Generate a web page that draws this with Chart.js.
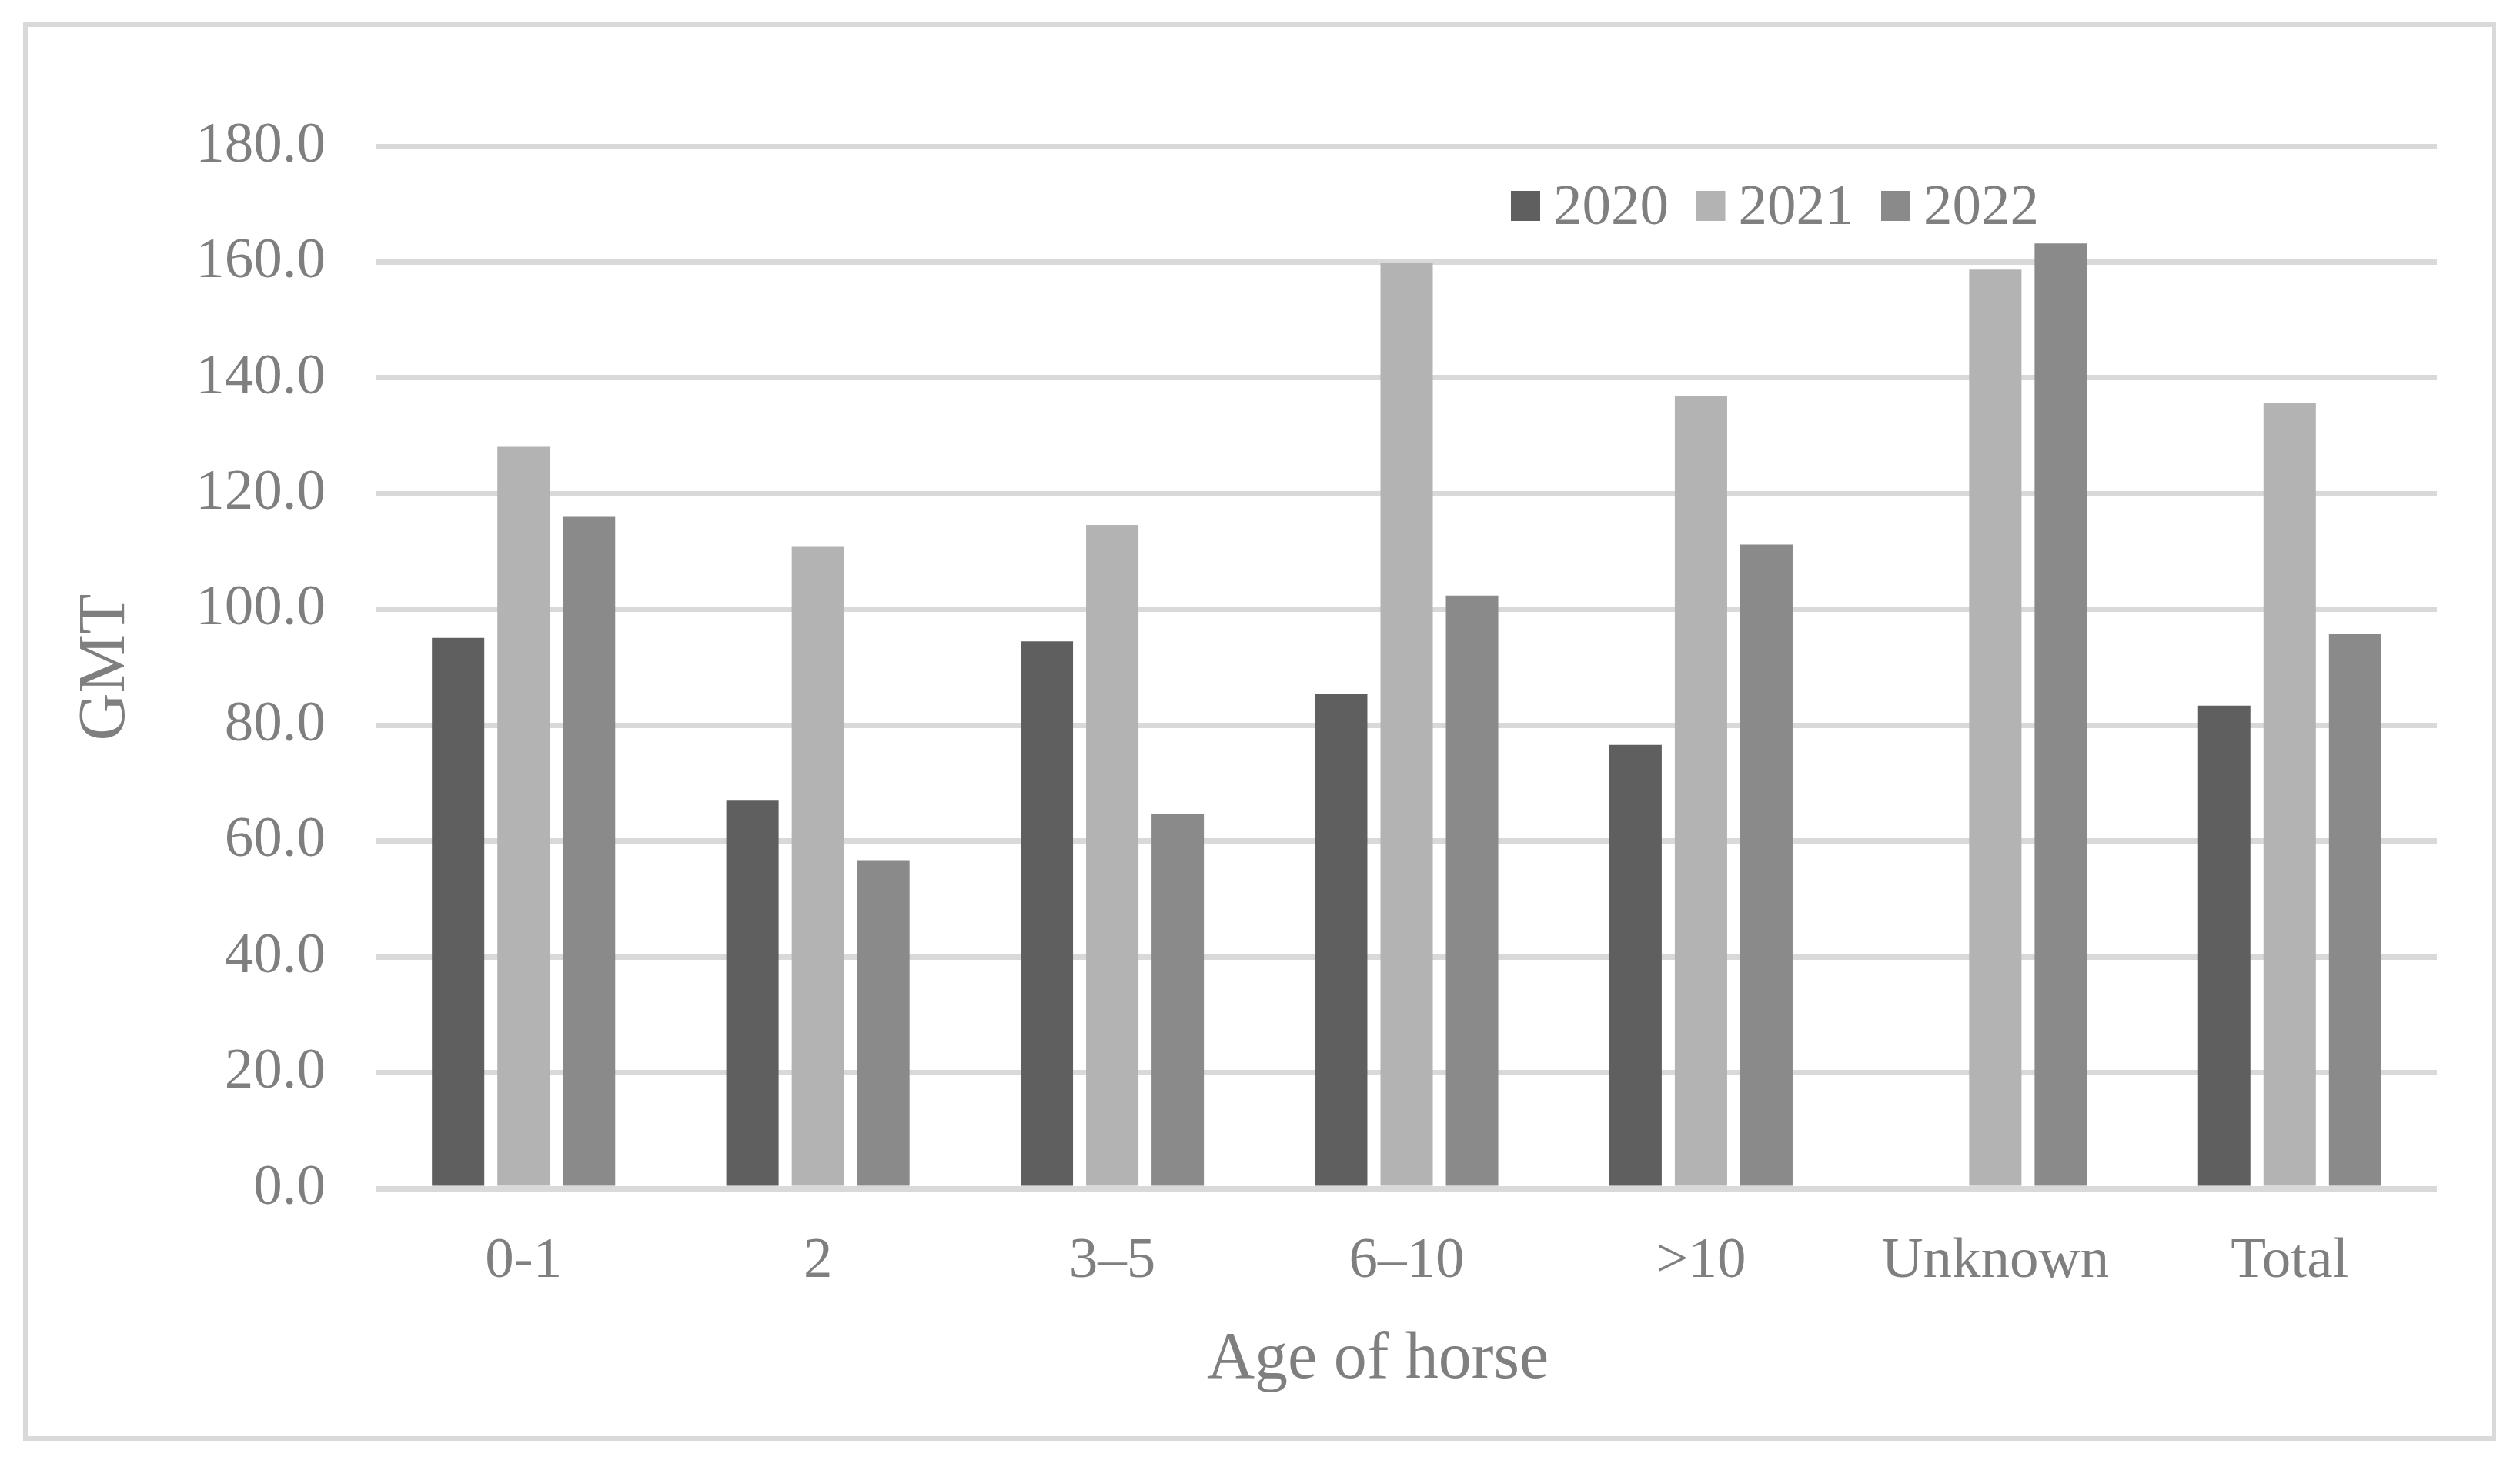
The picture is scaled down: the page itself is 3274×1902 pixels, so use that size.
<!DOCTYPE html>
<html>
<head>
<meta charset="utf-8">
<title>GMT by age of horse</title>
<script src="https://cdn.jsdelivr.net/npm/chart.js@4.4.1/dist/chart.umd.min.js"></script>
<style>
    html, body {
        margin: 0;
        padding: 0;
        background: #ffffff;
        overflow: hidden;
    }
    #wrap {
        position: relative;
        width: 3274px;
        height: 1902px;
    }
    #frame {
        position: absolute;
        left: 30px;
        top: 29px;
        width: 3213px;
        height: 1843px;
        border: 6px solid #d9d9d9;
        box-sizing: border-box;
        pointer-events: none;
    }
</style>
</head>
<body>
<div id="wrap">
    <canvas id="gmtChart" width="3274" height="1902"></canvas>
    <div id="frame"></div>
</div>
<script>
// data
const ageGroups = ["0-1", "2", "3\u20135", "6\u201310", ">10", "Unknown", "Total"];
const years = ["2020", "2021", "2022"];
const gmt2020 = [95.1, 67.1, 94.5, 85.4, 76.6, null, 83.4];
const gmt2021 = [128.1, 110.8, 114.6, 159.8, 136.9, 158.7, 135.7];
const gmt2022 = [116.0, 56.7, 64.6, 102.4, 111.2, 163.2, 95.7];
const yTicks = [0, 20, 40, 60, 80, 100, 120, 140, 160, 180];
const xTitle = "Age of horse";

const barColors = ["#5f5f5f", "#b3b3b3", "#8a8a8a"];
const textColor = "#7f7f7f";
const gridColor = "#d9d9d9";
const serif = "'Liberation Serif', 'Times New Roman', serif";

// legend sits inside the plot, a bit right of centre;
// the x title is drawn here too since it sits left of the plot centre
const floatingText = {
    id: "floatingText",
    afterDraw(chart) {
        const ctx = chart.ctx;
        ctx.save();
        ctx.font = "75px " + serif;
        ctx.textBaseline = "alphabetic";
        ctx.textAlign = "left";
        chart.data.datasets.forEach((ds, i) => {
            const x = 1963 + i * 240.5;
            ctx.fillStyle = ds.backgroundColor;
            ctx.fillRect(x, 248, 38, 39);
            ctx.fillStyle = textColor;
            ctx.fillText(ds.label, x + 55, 291);
        });

        ctx.font = "86px " + serif;
        ctx.textAlign = "center";
        ctx.fillStyle = textColor;
        ctx.fillText(xTitle, 1790, 1790);
        ctx.restore();
    }
};

document.addEventListener("DOMContentLoaded", () => {
    const series = [gmt2020, gmt2021, gmt2022];

    new Chart(document.getElementById("gmtChart"), {
        type: "bar",
        data: {
            labels: ageGroups,
            datasets: years.map((year, i) => ({
                label: year,
                data: series[i],
                backgroundColor: barColors[i],
                borderWidth: 0,
                barPercentage: 0.8,
                categoryPercentage: 0.667
            }))
        },
        options: {
            responsive: false,
            animation: false,
            layout: {
                padding: { left: 0, right: 108, top: 190, bottom: 0 }
            },
            plugins: {
                legend: { display: false },
                tooltip: { enabled: false }
            },
            scales: {
                x: {
                    grid: { display: false },
                    border: { display: false },
                    ticks: {
                        color: textColor,
                        font: { family: serif, size: 75 },
                        padding: 42,
                        maxRotation: 0
                    },
                    afterFit(scale) {
                        scale.height = 358;
                    }
                },
                y: {
                    min: 0,
                    max: 180,
                    afterBuildTicks(scale) {
                        scale.ticks = yTicks.map(v => ({ value: v }));
                    },
                    grid: {
                        color: gridColor,
                        lineWidth: 7,
                        drawTicks: false
                    },
                    border: { display: false },
                    ticks: {
                        color: textColor,
                        font: { family: serif, size: 75 },
                        padding: 66,
                        callback: v => v.toFixed(1)
                    },
                    title: {
                        display: true,
                        text: "GMT",
                        color: textColor,
                        font: { family: serif, size: 86, lineHeight: 1 },
                        padding: { top: 95, bottom: 0 }
                    },
                    afterFit(scale) {
                        scale.width = 489;
                    }
                }
            }
        },
        plugins: [floatingText]
    });
});
</script>
</body>
</html>
